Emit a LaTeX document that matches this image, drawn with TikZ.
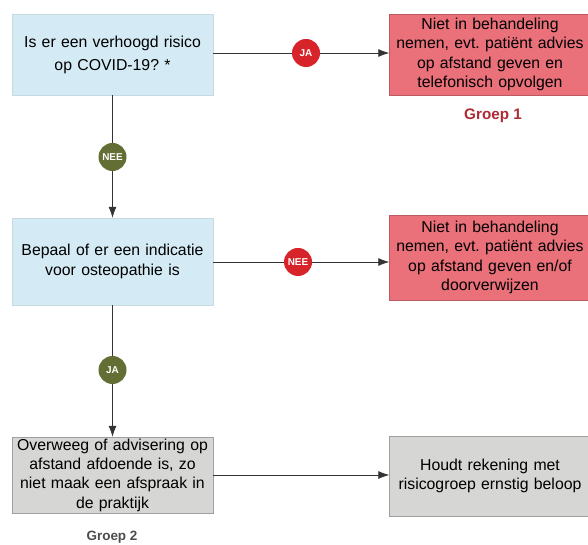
\documentclass[tikz,border=0pt]{standalone}
\usepackage{fontspec}
\setmainfont{Liberation Sans}
\usetikzlibrary{arrows.meta}

\definecolor{askblue}{RGB}{212,234,244}
\definecolor{stopred}{RGB}{234,112,122}
\definecolor{keepgray}{RGB}{214,214,212}
\definecolor{yesred}{RGB}{214,36,42}
\definecolor{nogreen}{RGB}{98,110,52}
\definecolor{groupred}{RGB}{172,42,52}

\begin{document}
\begin{tikzpicture}[x=0.03cm, y=-0.03cm]
		\tikzset{box/.style={shape = rectangle, minimum width = 6.03cm, text width = 5.95cm, align = center, inner sep = 1pt, font = \fontsize{13.5}{16.5}\selectfont}}
		\tikzset{askbox/.style={box, fill = askblue, draw = askblue!85!gray}}
		\tikzset{stopbox/.style={box, fill = stopred, draw = stopred!80!black}}
		\tikzset{keepbox/.style={box, fill = keepgray, draw = keepgray!75!black}}
		\tikzset{answer/.style={shape = circle, minimum size = 0.84cm, inner sep = 0pt, text = white, font = \fontsize{8.5}{9}\selectfont\bfseries}}
		\tikzset{edge/.style={-{Latex[length = 3.3mm, width = 2.4mm]}, semithick, draw = black!80}}
		\useasboundingbox (0, 0) rectangle (588, 545);
		%boxes
		\node[askbox, minimum height = 2.43cm, font = \fontsize{13.5}{19.5}\selectfont] (risk) at (112.5, 54.5) {Is er een verhoogd risico\\op COVID-19?\ *};
		\node[stopbox, minimum height = 2.43cm] (stop1) at (490, 54.5) {Niet in behandeling\\nemen, evt.\ patiënt advies\\op afstand geven en\\telefonisch opvolgen};
		\node[askbox, minimum height = 2.61cm] (indic) at (112.5, 261.5) {Bepaal of er een indicatie\\voor osteopathie is};
		\node[stopbox, minimum height = 2.55cm] (stop2) at (490, 257.5) {Niet in behandeling\\nemen, evt.\ patiënt advies\\op afstand geven en/of\\doorverwijzen};
		\node[keepbox, minimum height = 2.28cm] (advice) at (112.5, 475) {Overweeg of advisering op\\afstand afdoende is, zo\\niet maak een afspraak in\\de praktijk};
		\node[keepbox, minimum height = 2.4cm] (keep) at (490, 476) {Houdt rekening met\\risicogroep ernstig beloop};
		%labels
		\node[text = groupred, font = \fontsize{13}{14}\selectfont\bfseries] (group1) at (493, 116) {Groep 1};
		\node[text = black!70, font = \fontsize{11.5}{14}\selectfont\bfseries] (group2) at (112, 537) {Groep 2};
		%answers
		\node[answer, fill = yesred] (ja1) at (306, 53) {JA};
		\node[answer, fill = nogreen] (nee1) at (112.5, 157) {NEE};
		\node[answer, fill = yesred] (nee2) at (298, 262) {NEE};
		\node[answer, fill = nogreen] (ja2) at (112.5, 370) {JA};
		%edges
		\draw[edge, -] (risk.east |- ja1) -- (ja1);
		\draw[edge] (ja1) -- (stop1.west |- ja1);
		\draw[edge, -] (risk) -- (nee1);
		\draw[edge] (nee1) -- (indic);
		\draw[edge, -] (indic.east |- nee2) -- (nee2);
		\draw[edge] (nee2) -- (stop2.west |- nee2);
		\draw[edge, -] (indic) -- (ja2);
		\draw[edge] (ja2) -- (advice);
		\draw[edge] (advice) -- (keep.west |- advice);
\end{tikzpicture}
\end{document}
